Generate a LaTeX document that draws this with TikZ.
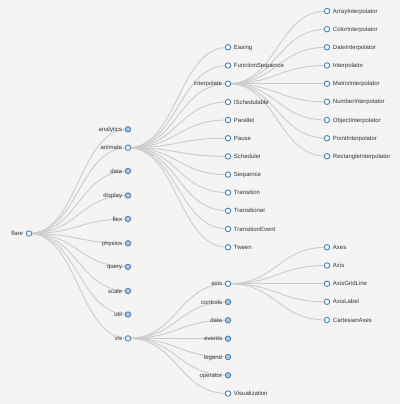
\documentclass[tikz,border=0pt]{standalone}
\usepackage{fontspec}
\setmainfont{Liberation Sans}
\usetikzlibrary{calc,backgrounds}
\definecolor{bgc}{HTML}{F4F4F4}
\definecolor{lnc}{HTML}{CCCCCC}
\definecolor{stc}{HTML}{4682B4}
\definecolor{lsb}{HTML}{B0C4DE}
\definecolor{txc}{HTML}{333333}
\tikzset{
  linkline/.style={draw=lnc,line width=0.9pt},
  opennode/.style={circle,draw=stc,fill=white,line width=0.9pt,minimum size=5.4pt,inner sep=0pt},
  shutnode/.style={opennode,fill=lsb},
  lbl/.style={font=\fontsize{6}{7}\selectfont,text=txc,inner sep=0pt,text height=4.8pt,text depth=0.6pt,label distance=2.6pt},
}
\newcommand\lnk[2]{\draw[linkline] let \p1=(#1.center), \p2=(#2.center) in (\p1) .. controls ({(\x1+\x2)/2},\y1) and ({(\x1+\x2)/2},\y2) .. (\p2);}
\begin{document}
\begin{tikzpicture}[x=1pt,y=-1pt]
\useasboundingbox (0,0) rectangle (400,404);
% depth 0
\node[opennode,label={[lbl]left:flare}] (flare) at (29,233.5) {};
% depth 1
\node[shutnode,label={[lbl]left:analytics}] (analytics) at (128,129.3) {};
\node[opennode,label={[lbl]left:animate}] (animate) at (128,147.7) {};
\node[shutnode,label={[lbl]left:data}] (data) at (128,171) {};
\node[shutnode,label={[lbl]left:display}] (display) at (128,195.5) {};
\node[shutnode,label={[lbl]left:flex}] (flex) at (128,219) {};
\node[shutnode,label={[lbl]left:physics}] (physics) at (128,243.3) {};
\node[shutnode,label={[lbl]left:query}] (query) at (128,266.8) {};
\node[shutnode,label={[lbl]left:scale}] (scale) at (128,291) {};
\node[shutnode,label={[lbl]left:util}] (util) at (128,314.5) {};
\node[opennode,label={[lbl]left:vis}] (vis) at (128,338.4) {};
% depth 2 (animate)
\node[opennode,label={[lbl]right:Easing}] (easing) at (228,47.3) {};
\node[opennode,label={[lbl]right:FunctionSequence}] (funseq) at (228,65.5) {};
\node[opennode,label={[lbl]left:interpolate}] (interpolate) at (228,83.7) {};
\node[opennode,label={[lbl]right:ISchedulable}] (isched) at (228,102) {};
\node[opennode,label={[lbl]right:Parallel}] (parallel) at (228,120) {};
\node[opennode,label={[lbl]right:Pause}] (pause) at (228,138.2) {};
\node[opennode,label={[lbl]right:Scheduler}] (scheduler) at (228,156.4) {};
\node[opennode,label={[lbl]right:Sequence}] (sequence) at (228,174.6) {};
\node[opennode,label={[lbl]right:Transition}] (transition) at (228,192.6) {};
\node[opennode,label={[lbl]right:Transitioner}] (transitioner) at (228,210.8) {};
\node[opennode,label={[lbl]right:TransitionEvent}] (transevent) at (228,229) {};
\node[opennode,label={[lbl]right:Tween}] (tween) at (228,247.3) {};
% depth 2 (vis)
\node[opennode,label={[lbl]left:axis}] (axis) at (228,283.7) {};
\node[shutnode,label={[lbl]left:controls}] (controls) at (228,302) {};
\node[shutnode,label={[lbl]left:data}] (vdata) at (228,320.3) {};
\node[shutnode,label={[lbl]left:events}] (events) at (228,338.7) {};
\node[shutnode,label={[lbl]left:legend}] (legend) at (228,357) {};
\node[shutnode,label={[lbl]left:operator}] (operator) at (228,375.3) {};
\node[opennode,label={[lbl]right:Visualization}] (visualization) at (228,393.5) {};
% depth 3 (interpolate)
\node[opennode,label={[lbl]right:ArrayInterpolator}] (arrayi) at (327,11) {};
\node[opennode,label={[lbl]right:ColorInterpolator}] (colori) at (327,29.2) {};
\node[opennode,label={[lbl]right:DateInterpolator}] (datei) at (327,47.3) {};
\node[opennode,label={[lbl]right:Interpolator}] (interp) at (327,65.5) {};
\node[opennode,label={[lbl]right:MatrixInterpolator}] (matrixi) at (327,83.7) {};
\node[opennode,label={[lbl]right:NumberInterpolator}] (numberi) at (327,101.8) {};
\node[opennode,label={[lbl]right:ObjectInterpolator}] (objecti) at (327,120) {};
\node[opennode,label={[lbl]right:PointInterpolator}] (pointi) at (327,138.2) {};
\node[opennode,label={[lbl]right:RectangleInterpolator}] (recti) at (327,156.3) {};
% depth 3 (axis)
\node[opennode,label={[lbl]right:Axes}] (axes) at (327,247.3) {};
\node[opennode,label={[lbl]right:Axis}] (axisc) at (327,265.5) {};
\node[opennode,label={[lbl]right:AxisGridLine}] (gridline) at (327,283.7) {};
\node[opennode,label={[lbl]right:AxisLabel}] (axislabel) at (327,301.8) {};
\node[opennode,label={[lbl]right:CartesianAxes}] (cartesian) at (327,320) {};
\begin{scope}[on background layer]
\fill[bgc] (0,0) rectangle (400,404);
\foreach \c in {analytics,animate,data,display,flex,physics,query,scale,util,vis} {\lnk{flare}{\c}}
\foreach \c in {easing,funseq,interpolate,isched,parallel,pause,scheduler,sequence,transition,transitioner,transevent,tween} {\lnk{animate}{\c}}
\foreach \c in {axis,controls,vdata,events,legend,operator,visualization} {\lnk{vis}{\c}}
\foreach \c in {arrayi,colori,datei,interp,matrixi,numberi,objecti,pointi,recti} {\lnk{interpolate}{\c}}
\foreach \c in {axes,axisc,gridline,axislabel,cartesian} {\lnk{axis}{\c}}
\end{scope}
\end{tikzpicture}
\end{document}
